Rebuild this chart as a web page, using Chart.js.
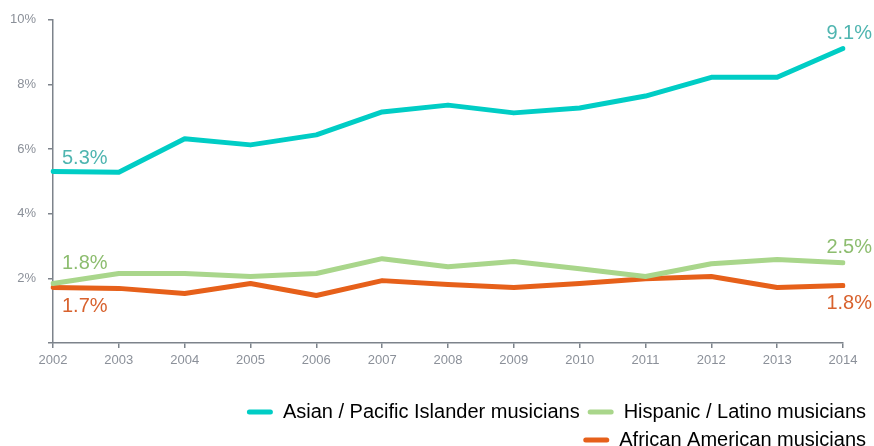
<!DOCTYPE html>
<html>
<head>
<meta charset="utf-8">
<script src="https://cdn.jsdelivr.net/npm/chart.js@4"></script>
<style>
  html, body { margin: 0; padding: 0; background: #fff; }
  #wrap { width: 874px; height: 446px; }
</style>
</head>
<body>
<div id="wrap"><canvas id="musiciansChart"></canvas></div>
<script>
// Share of musicians by group, 2002-2014 (%)
const years = ['2002','2003','2004','2005','2006','2007','2008','2009','2010','2011','2012','2013','2014'];
const asianPacific = [5.31, 5.28, 6.32, 6.13, 6.44, 7.15, 7.36, 7.12, 7.27, 7.64, 8.22, 8.22, 9.11];
const hispanicLatino = [1.84, 2.15, 2.15, 2.06, 2.15, 2.61, 2.36, 2.52, 2.30, 2.06, 2.45, 2.58, 2.48];
const africanAmerican = [1.72, 1.69, 1.53, 1.84, 1.47, 1.93, 1.81, 1.72, 1.84, 1.99, 2.06, 1.72, 1.78];
const yTicks = [0, 2, 4, 6, 8, 10];

const AXIS = '#7d838b';
const TICK_TXT = '#8b9099';
const FONT = '"Liberation Sans", Arial, sans-serif';

// labels at first/last point of each line
const endLabels = {
  0: { color: '#4fb5b0', first: '5.3%', last: '9.1%', dy0: -13, dy1: -15 },
  1: { color: '#8dbd6f', first: '1.8%', last: '2.5%', dy0: -20, dy1: -15 },
  2: { color: '#d8622e', first: '1.7%', last: '1.8%', dy0: 19, dy1: 18 }
};

const endLabelPlugin = {
  id: 'endLabels',
  afterDatasetsDraw(chart) {
    const ctx = chart.ctx;
    ctx.save();
    ctx.font = '300 20px ' + FONT;
    ctx.textBaseline = 'middle';
    chart.data.datasets.forEach((ds, i) => {
      const cfg = endLabels[i];
      const pts = chart.getDatasetMeta(i).data;
      if (!cfg || !pts.length) return;
      const p0 = pts[0], p1 = pts[pts.length - 1];
      ctx.fillStyle = cfg.color;
      ctx.textAlign = 'left';
      ctx.fillText(cfg.first, p0.x + 9, p0.y + cfg.dy0);
      ctx.textAlign = 'right';
      ctx.fillText(cfg.last, p1.x + 29, p1.y + cfg.dy1);
    });
    ctx.restore();
  }
};

function lineSet(label, data, color) {
  return {
    label, data,
    borderColor: color,
    backgroundColor: color,
    borderWidth: 5,
    pointRadius: 0,
    tension: 0,
    borderJoinStyle: 'round',
    borderCapStyle: 'round',
    fill: false
  };
}

new Chart(document.getElementById('musiciansChart'), {
  type: 'line',
  data: {
    labels: years,
    datasets: [
      lineSet('Asian / Pacific Islander musicians', asianPacific, '#00cdc5'),
      lineSet('Hispanic / Latino musicians', hispanicLatino, '#a9d68b'),
      lineSet('African American musicians', africanAmerican, '#e6601a')
    ]
  },
  options: {
    responsive: true,
    maintainAspectRatio: false,
    animation: false,
    layout: { padding: { top: 17, left: 0, right: 0, bottom: -14 } },
    plugins: {
      tooltip: { enabled: false },
      legend: {
        position: 'bottom',
        align: 'end',
        labels: {
          color: '#6f7782',
          font: { family: FONT, size: 20 },
          boxWidth: 26,
          boxHeight: 5,
          padding: 8,
          useBorderRadius: true,
          borderRadius: 2.5,
          generateLabels(chart) {
            return chart.data.datasets.map((ds, i) => ({
              text: ds.label,
              fillStyle: ds.borderColor,
              strokeStyle: ds.borderColor,
              lineWidth: 0,
              hidden: false,
              datasetIndex: i,
              borderRadius: 2.5
            }));
          }
        }
      }
    },
    scales: {
      x: {
        offset: false,
        afterFit: s => { s.height = 51; },
        grid: { drawOnChartArea: false, drawTicks: true, tickLength: 5, color: AXIS, lineWidth: 1.5 },
        border: { display: true, color: AXIS, width: 1.5 },
        ticks: { color: TICK_TXT, font: { family: FONT, size: 13 }, padding: 5, maxRotation: 0, autoSkip: false }
      },
      y: {
        min: 0, max: 10,
        afterBuildTicks: s => { s.ticks = yTicks.map(v => ({ value: v })); },
        afterFit: s => { s.width = 53; },
        grid: { drawOnChartArea: false, drawTicks: true, tickLength: 5, color: AXIS, lineWidth: 1.5 },
        border: { display: true, color: AXIS, width: 1.5 },
        ticks: {
          color: TICK_TXT, font: { family: FONT, size: 13 }, padding: 12,
          callback: v => v === 0 ? '' : v + '%'
        }
      },
      yRight: {
        position: 'right',
        min: 0, max: 10,
        afterFit: s => { s.width = 31; },
        grid: { display: false },
        border: { display: false },
        ticks: { display: false }
      }
    }
  },
  plugins: [endLabelPlugin]
});
</script>
</body>
</html>
